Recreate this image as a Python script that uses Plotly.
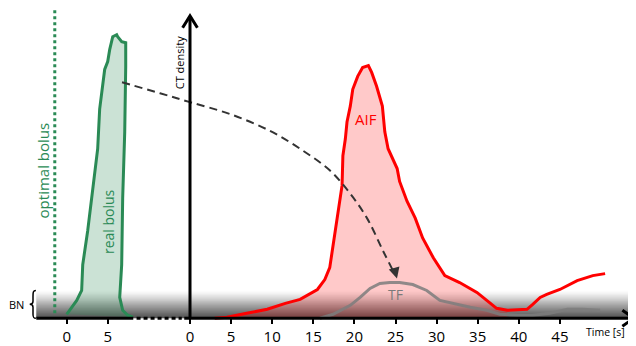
import plotly.graph_objects as go

# ---------------- data ----------------
# bolus time axis (left, seconds) is drawn with an offset on the shared x scale
BOLUS_OFFSET = -15
BOLUS_T = [0, 1.22, 1.82, 1.95, 2.55, 3.04, 3.77, 4.01, 4.38, 4.62, 4.99, 5.23, 5.60, 6.08,
           6.20, 6.69, 7.18, 7.18, 7.06, 6.81, 6.69, 6.45, 6.81, 7.42, 8.03]
BOLUS_D = [4, 18, 28, 54, 88, 121, 171, 211, 238, 251, 259, 271, 284, 286,
           284, 279, 278, 254, 188, 121, 54, 21, 8, 3, 1]

AIF_T = [3.0, 4.5, 6.9, 9.4, 11.6, 13.4, 15.5, 16.4, 17.0, 17.4, 18.0, 18.5, 18.6, 18.9,
         19.1, 19.5, 19.8, 20.4, 21.0, 21.7, 22.1, 22.7, 23.4, 23.7, 24.1, 25.2, 25.5,
         26.4, 27.4, 28.3, 29.6, 31.0, 32.8, 34.9, 36.1, 37.3, 38.6, 41.0, 41.7, 42.6,
         43.4, 45.0, 47.1, 49.0, 50.5]
AIF_D = [0, 1, 5, 9, 15, 19, 29, 39, 51, 74, 104, 134, 164, 181,
         198, 214, 231, 244, 253, 255, 248, 234, 214, 188, 171, 151, 138,
         118, 101, 81, 61, 43, 36, 26, 18, 10, 8, 9, 14, 21,
         24, 29, 38, 43, 45]
AIF_FILL_END = 38.6

TF_T = [15.8, 17.4, 19.5, 20.7, 21.9, 23.1, 24.3, 25.5, 27.1, 28.8, 30.4, 32.5, 34.1,
        36.1, 37.7, 39.8, 41.7, 43.8, 45.9, 47.8, 49.9]
TF_D = [0, 4, 13, 21, 30, 35, 36, 36, 34, 28, 18, 14, 11,
        8, 4, 3, 3, 5, 9, 9, 8]

# transport path (bolus -> tissue)
PATH_T = [-8.27, -3.65, 0, 4.87, 9.73, 13.75, 17.03, 19.46, 21.53, 23.48, 24.94]
PATH_D = [238, 227, 218, 206, 189, 169, 149, 126, 101, 68, 44]
ARROW_TIP = (25.18, 40)

OPTIMAL_BOLUS_T = -1.45   # on bolus time axis
BOLUS_TICKS = [0, 5]
TIME_TICKS = [0, 5, 10, 15, 20, 25, 30, 35, 40, 45]
BN_TOP = 28

# ---------------- layout constants ----------------
OFF = 8                        # page body margin
W, H = 636 - OFF, 346 - OFF
PX = 8.22                      # pixels per second
X0 = (OFF - 190) / PX
X1 = (636 - 190) / PX
Y0, Y1 = -25, 321 - OFF
AX_START = -18.7
AX_END = 53.9

GREEN = "#2a8a55"
RED = "#ff0000"

fig = go.Figure()

# real bolus
fig.add_trace(go.Scatter(
    x=[t + BOLUS_OFFSET for t in BOLUS_T], y=BOLUS_D, mode="lines",
    line=dict(color=GREEN, width=3), fill="toself",
    fillcolor="rgba(46,139,87,0.25)", hoverinfo="skip", showlegend=False))

# AIF fill (main peak only)
fill_t = [t for t in AIF_T if t <= AIF_FILL_END]
fill_d = AIF_D[:len(fill_t)]
fig.add_trace(go.Scatter(
    x=fill_t, y=fill_d, mode="lines", line=dict(width=0),
    fill="tozeroy", fillcolor="rgba(255,0,0,0.21)", hoverinfo="skip", showlegend=False))

# TF
fig.add_trace(go.Scatter(
    x=TF_T, y=TF_D, mode="lines", line=dict(color="rgba(125,125,125,0.85)", width=3),
    hoverinfo="skip", showlegend=False))

# AIF line
fig.add_trace(go.Scatter(
    x=AIF_T, y=AIF_D, mode="lines", line=dict(color=RED, width=3),
    hoverinfo="skip", showlegend=False))

# dashed transport path
fig.add_trace(go.Scatter(
    x=PATH_T, y=PATH_D, mode="lines",
    line=dict(color="#333333", width=2, dash="8px,5px", shape="spline"),
    hoverinfo="skip", showlegend=False))

shapes = []
# BN gradient band
n = BN_TOP
for k in range(n):
    f = (k + 0.5) / n
    a = 0.92 * (1 - f) ** 1.25
    shapes.append(dict(type="rect", xref="x", yref="y", x0=AX_START, x1=X1 + 1,
                       y0=k, y1=k + 1, line=dict(width=0),
                       fillcolor=f"rgba(25,25,25,{a:.3f})", layer="below"))

# horizontal axis: solid (bolus part), dotted gap, solid (time part)
shapes.append(dict(type="line", xref="x", yref="y", x0=AX_START, x1=-6.9, y0=0, y1=0,
                   line=dict(color="black", width=3)))
shapes.append(dict(type="line", xref="x", yref="y", x0=-6.5, x1=-1.0, y0=0, y1=0,
                   line=dict(color="black", width=3, dash="4px,3px")))
shapes.append(dict(type="line", xref="x", yref="y", x0=-0.7, x1=AX_END, y0=0, y1=0,
                   line=dict(color="black", width=3)))
# x arrow head
shapes.append(dict(type="path", xref="x", yref="y",
                   path=f"M {AX_END - 1.3},8 L {AX_END + 0.1},0 L {AX_END - 1.3},-8",
                   line=dict(color="black", width=3)))
# vertical axis
shapes.append(dict(type="line", xref="x", yref="y", x0=0, x1=0, y0=0, y1=304,
                   line=dict(color="black", width=3)))
shapes.append(dict(type="path", xref="x", yref="y",
                   path="M -0.9,293 L 0,305 L 0.9,293",
                   line=dict(color="black", width=3)))
# optimal bolus
shapes.append(dict(type="line", xref="x", yref="y",
                   x0=OPTIMAL_BOLUS_T + BOLUS_OFFSET, x1=OPTIMAL_BOLUS_T + BOLUS_OFFSET,
                   y0=5, y1=311, line=dict(color=GREEN, width=3, dash="3px,3px")))
# BN brace
bx = AX_START - 0.05
shapes.append(dict(type="path", xref="x", yref="y",
                   path=(f"M {bx},{BN_TOP} C {bx-0.35},{BN_TOP} {bx-0.35},{BN_TOP-2} {bx-0.35},{BN_TOP-6} "
                         f"L {bx-0.35},{BN_TOP/2+3} C {bx-0.35},{BN_TOP/2+1} {bx-0.5},{BN_TOP/2} {bx-0.75},{BN_TOP/2} "
                         f"C {bx-0.5},{BN_TOP/2} {bx-0.35},{BN_TOP/2-1} {bx-0.35},{BN_TOP/2-3} "
                         f"L {bx-0.35},4 C {bx-0.35},1 {bx-0.3},0 {bx},0"),
                   line=dict(color="black", width=1.5)))

FONT = "Open Sans"
ann = []
ann.append(dict(x=ARROW_TIP[0], y=ARROW_TIP[1], ax=PATH_T[-1] - 0.15, ay=PATH_D[-1] + 8,
                xref="x", yref="y", axref="x", ayref="y", text="", showarrow=True,
                arrowhead=2, arrowsize=1.1, arrowwidth=2, arrowcolor="#333333", standoff=0))
ann.append(dict(x=-17.9, y=149, text="optimal bolus", textangle=-90, showarrow=False,
                font=dict(family=FONT, size=15, color=GREEN)))
ann.append(dict(x=-9.98, y=98, text="real bolus", textangle=-90, showarrow=False,
                font=dict(family=FONT, size=14, color=GREEN)))
ann.append(dict(x=-1.25, y=258, text="CT density", textangle=-90, showarrow=False,
                font=dict(family=FONT, size=11, color="black")))
ann.append(dict(x=21.4, y=201, text="AIF", showarrow=False,
                font=dict(family=FONT, size=15, color=RED)))
ann.append(dict(x=25.06, y=24, text="TF", showarrow=False,
                font=dict(family=FONT, size=14, color="#7a7a7a")))
ann.append(dict(x=53.2, y=-14, text="Time [s]", showarrow=False, xanchor="right",
                font=dict(family=FONT, size=10.5, color="black")))
ann.append(dict(x=-21.05, y=14, text="BN", showarrow=False,
                font=dict(family=FONT, size=11, color="black")))

tickvals = [t + BOLUS_OFFSET for t in BOLUS_TICKS] + TIME_TICKS
ticktext = [str(t) for t in BOLUS_TICKS] + [str(t) for t in TIME_TICKS]

fig.update_layout(
    width=W, height=H, margin=dict(l=0, r=0, t=0, b=0),
    paper_bgcolor="white", plot_bgcolor="white",
    shapes=shapes, annotations=ann, showlegend=False,
    xaxis=dict(range=[X0, X1], showgrid=False, zeroline=False, showline=False,
               anchor="free", position=-Y0 / (Y1 - Y0),
               tickvals=tickvals, ticktext=ticktext, ticks="outside", ticklen=5,
               tickwidth=2, tickcolor="black",
               tickfont=dict(family=FONT, size=15, color="black")),
    yaxis=dict(range=[Y0, Y1], visible=False),
)

fig.write_html("out.html")
